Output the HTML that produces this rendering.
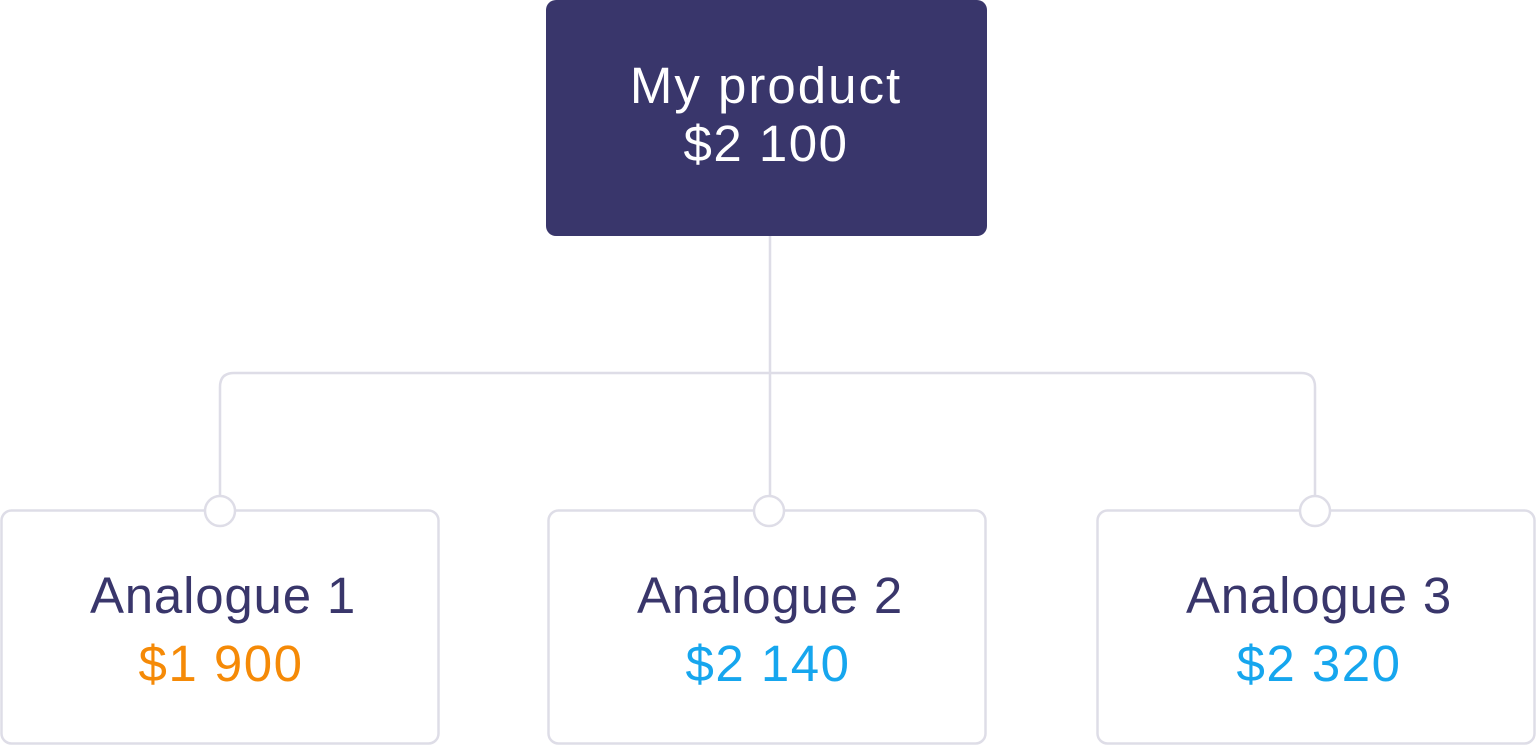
<!DOCTYPE html>
<html><head><style>html,body{margin:0;padding:0;background:#fff;}svg{display:block}</style></head>
<body>
<svg width="1536" height="745" viewBox="0 0 1536 745" xmlns="http://www.w3.org/2000/svg" font-family="Liberation Sans, sans-serif">
<rect x="546" y="0" width="441" height="236" rx="10" fill="#39366b"/>
<g fill="none" stroke="#dedde7" stroke-width="2.5">
<path d="M770 236 V496"/>
<path d="M220 496 V387 Q220 373 234 373 H1301 Q1315 373 1315 387 V496"/>
<rect x="1.5" y="510.5" width="437" height="233" rx="10"/>
<rect x="548.5" y="510.5" width="437" height="233" rx="10"/>
<rect x="1097.5" y="510.5" width="437" height="233" rx="10"/>
<circle cx="220" cy="511" r="15" fill="#fff"/>
<circle cx="769" cy="511" r="15" fill="#fff"/>
<circle cx="1315" cy="511" r="15" fill="#fff"/>
</g>
<g text-anchor="middle" font-size="51" letter-spacing="0.8">
<text x="766" y="103" fill="#fff" letter-spacing="2">My product</text>
<text x="766" y="161" fill="#fff" letter-spacing="1.5">$2 100</text>
<text x="223" y="613" fill="#39366b">Analogue 1</text>
<text x="221" y="681" fill="#f58a07" letter-spacing="1.5">$1 900</text>
<text x="770" y="613" fill="#39366b">Analogue 2</text>
<text x="768" y="681" fill="#16a6ee" letter-spacing="1.5">$2 140</text>
<text x="1319" y="613" fill="#39366b">Analogue 3</text>
<text x="1319" y="681" fill="#16a6ee" letter-spacing="1.5">$2 320</text>
</g>
</svg>
</body></html>
